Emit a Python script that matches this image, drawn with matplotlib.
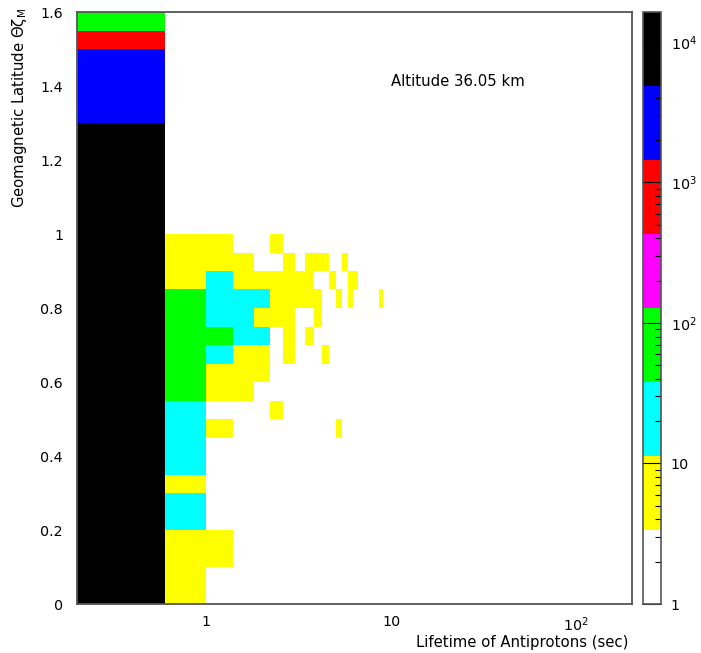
import numpy as np
import matplotlib
matplotlib.use("Agg")
import matplotlib.pyplot as plt
from matplotlib.colors import ListedColormap, LogNorm

plt.rcParams["font.family"] = "DejaVu Sans"
plt.rcParams["mathtext.default"] = "regular"

# lifetime bins (sec): 0.4 s wide, starting at 0.2 s
x_edges = 0.2 + 0.4 * np.arange(23)
# geomagnetic latitude bins: 0.05 wide, 0 .. 1.6
y_edges = 0.05 * np.arange(33)

# one string per latitude row (bottom -> top), one char per lifetime bin
# K black, B blue, R red, M magenta, G green, C cyan, Y yellow, . empty
rows = [
    "KY", "KY", "KYY", "KYY", "KC", "KC", "KY", "KC", "KC",
    "KCY.........Y",
    "KC...Y",
    "KGYY",
    "KGYYY",
    "KGCYY.Y...Y",
    "KGGCC.Y.Y",
    "KGCCYYY..Y",
    "KGCCCYYYYY..Y.Y......Y",
    "KYCYYYYYY..Y..YY",
    "KYYY..Y.YYY..Y",
    "KYY..Y",
    "K", "K", "K", "K", "K", "K",
    "B", "B", "B", "B", "R", "G",
]
counts = {"Y": 6, "C": 20, "G": 70, "M": 250, "R": 800, "B": 2600, "K": 10000}

level_colors = ["white", "#ffff00", "#00ffff", "#00ff00",
                "#ff00ff", "#ff0000", "#0000ff", "black"]
z_min, z_max = 1, 16340

cbar_ticks = [1, 10, 100, 1000, 10000]
cbar_labels = ["1", "10", "$10^{2}$", "$10^{3}$", "$10^{4}$"]
x_ticks = [1, 10, 100]
x_labels = ["1", "10", "$10^{2}$"]
y_ticks = [0, 0.2, 0.4, 0.6, 0.8, 1.0, 1.2, 1.4, 1.6]
y_labels = ["0", "0.2", "0.4", "0.6", "0.8", "1", "1.2", "1.4", "1.6"]

Z = np.full((len(y_edges) - 1, len(x_edges) - 1), np.nan)
for i, row in enumerate(rows):
    for j, c in enumerate(row):
        if c != ".":
            Z[i, j] = counts[c]

fig = plt.figure(figsize=(7.01, 6.53), dpi=100)
ax = fig.add_axes([77 / 701, 49 / 653, 555 / 701, 592 / 653])
cax = fig.add_axes([643 / 701, 49 / 653, 18 / 701, 592 / 653])

cmap = ListedColormap(level_colors)
norm = LogNorm(vmin=z_min, vmax=z_max)
mesh = ax.pcolormesh(x_edges, y_edges, np.ma.masked_invalid(Z),
                     cmap=cmap, norm=norm)

ax.set_xscale("log")
ax.set_xlim(0.2, 200)
ax.set_ylim(0, 1.6)
ax.set_xticks(x_ticks, x_labels)
ax.set_xticks([], minor=True)
ax.set_yticks(y_ticks, y_labels)
ax.tick_params(length=0, labelsize=10.3)
ax.tick_params(axis="x", pad=8)
ax.tick_params(axis="y", pad=10)
for sp in ax.spines.values():
    sp.set_color("#555555")
    sp.set_linewidth(1.3)

cb = fig.colorbar(mesh, cax=cax)
cb.set_ticks(cbar_ticks, labels=cbar_labels)
minor = [m * d for d in [1, 10, 100, 1000] for m in range(2, 10)]
cb.set_ticks(minor, minor=True)
cax.yaxis.set_ticks_position("right")
cax.tick_params(which="major", direction="in", length=13.5, width=0.8,
                color="black", labelsize=10.3, pad=7)
cax.tick_params(which="minor", direction="in", length=4.5, width=0.8,
                color="black")
cb.outline.set_edgecolor("#555555")
cb.outline.set_linewidth(1.2)

fig.text(391 / 701, 1 - 82 / 653, "Altitude 36.05 km", fontsize=10.7,
         ha="left", va="center")
fig.text(628 / 701, 1 - 642 / 653, "Lifetime of Antiprotons (sec)",
         fontsize=10.7, ha="right", va="center")
fig.text(20 / 701, 1 - 8 / 653, "Geomagnetic Latitude Θζ$_{M}$",
         fontsize=10.7, rotation=90, ha="center", va="top")

fig.savefig("out.png", dpi=100)
